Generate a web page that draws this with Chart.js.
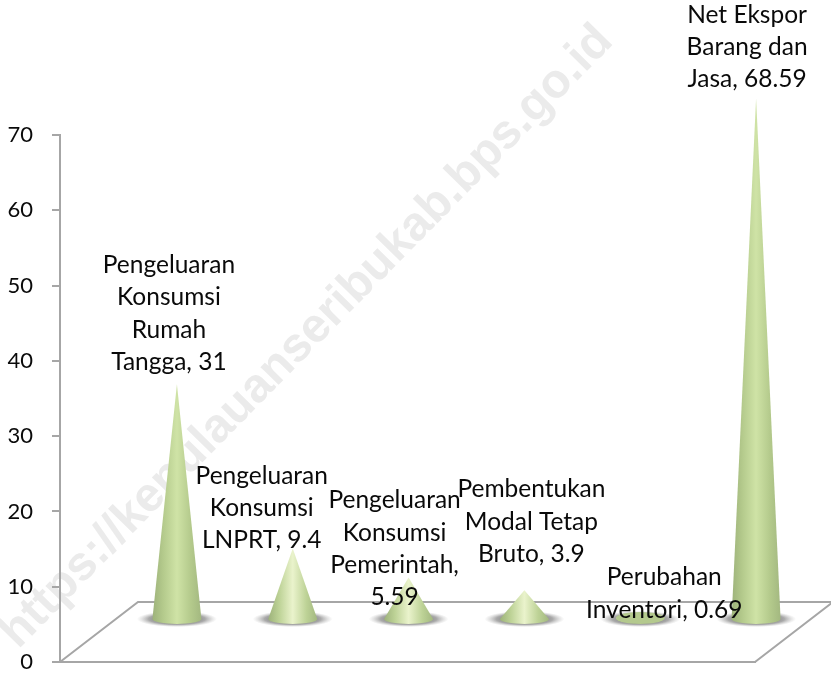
<!DOCTYPE html>
<html>
<head>
<meta charset="utf-8">
<style>
  html, body { margin: 0; padding: 0; background: #fff; }
  canvas { display: block; }
</style>
<script src="https://cdn.jsdelivr.net/npm/chart.js@4"></script>
</head>
<body>
<canvas id="kerucut" width="831" height="673"></canvas>
<script>
const categories = [
  "Pengeluaran Konsumsi Rumah Tangga",
  "Pengeluaran Konsumsi LNPRT",
  "Pengeluaran Konsumsi Pemerintah",
  "Pembentukan Modal Tetap Bruto",
  "Perubahan Inventori",
  "Net Ekspor Barang dan Jasa"
];
const values = [31, 9.4, 5.59, 3.9, 0.69, 68.59];
const tickValues = [0, 10, 20, 30, 40, 50, 60, 70];
const labelLines = [
  ["Pengeluaran", "Konsumsi", "Rumah", "Tangga, 31"],
  ["Pengeluaran", "Konsumsi", "LNPRT, 9.4"],
  ["Pengeluaran", "Konsumsi", "Pemerintah,", "5.59"],
  ["Pembentukan", "Modal Tetap", "Bruto, 3.9"],
  ["Perubahan", "Inventori, 0.69"],
  ["Net Ekspor", "Barang dan", "Jasa, 68.59"]
];
// label position relative to the cone: dx of centre, dy of last line from tip
const labelOffsets = [[-8, -22], [-31, -8], [-14, 20], [7, -36], [24, -5], [-9, -19]];

const FONT = "Lato, Carlito, sans-serif";
const AXIS = "#a6a6a6";
const DEPTH_X = 78, DEPTH_Y = 60;   // floor parallelogram
const SHIFT_X = 59, SHIFT_Y = 42;   // cones stand in the middle of the floor
const CONE_R = 24.5, CONE_RY = 5;

const watermark = {
  id: "watermark",
  beforeDraw(chart) {
    const c = chart.ctx;
    c.save();
    c.translate(307, 337);
    c.rotate(-45.5 * Math.PI / 180);
    c.font = "bold 48px 'Liberation Sans', sans-serif";
    c.fillStyle = "#ebebeb";
    c.textAlign = "center";
    c.textBaseline = "middle";
    c.fillText("https://kepulauanseribukab.bps.go.id", 0, 0);
    c.restore();
  }
};

const floor = {
  id: "floor",
  beforeDatasetsDraw(chart) {
    const c = chart.ctx, a = chart.chartArea;
    c.save();
    c.strokeStyle = AXIS;
    c.lineWidth = 2;
    c.beginPath();
    c.moveTo(a.left, a.bottom);
    c.lineTo(a.left + DEPTH_X, a.bottom - DEPTH_Y);
    c.lineTo(chart.width, a.bottom - DEPTH_Y);
    c.moveTo(a.right, a.bottom);
    c.lineTo(a.right + DEPTH_X, a.bottom - DEPTH_Y);
    c.stroke();
    c.restore();
  }
};

function drawShadow(c, x, y) {
  c.save();
  c.translate(x, y);
  c.scale(1, 0.2);
  const g = c.createRadialGradient(0, 0, 14, 0, 0, 40);
  g.addColorStop(0, "rgba(80,80,80,0.8)");
  g.addColorStop(0.55, "rgba(100,100,100,0.55)");
  g.addColorStop(1, "rgba(160,160,160,0)");
  c.fillStyle = g;
  c.beginPath();
  c.arc(0, 0, 40, 0, Math.PI * 2);
  c.fill();
  c.restore();
}

function coneFill(c, x, h) {
  const g = c.createLinearGradient(x - CONE_R, 0, x + CONE_R, 0);
  const mid = h < 100 ? "#eaf3cc" : "#cfe3a6";
  const side = h < 100 ? "#bdd296" : "#b4ca8c";
  g.addColorStop(0, "#9db27a");
  g.addColorStop(0.22, side);
  g.addColorStop(0.5, mid);
  g.addColorStop(0.78, side);
  g.addColorStop(1, "#a3b880");
  return g;
}

// each bar element gives x, y and base from the scales, the cone is drawn on them
const cones = {
  id: "cones",
  afterDatasetsDraw(chart) {
    const c = chart.ctx;
    const bars = chart.getDatasetMeta(0).data;
    bars.forEach((bar, i) => {
      const x = bar.x + SHIFT_X;
      const base = bar.base - SHIFT_Y;
      const h = (bar.base - bar.y) * 1.01;
      drawShadow(c, x, base);
      c.fillStyle = coneFill(c, x, h);
      c.beginPath();
      if (h < CONE_RY * 2) {
        c.ellipse(x, base - 1, CONE_R, CONE_RY + 1, 0, 0, Math.PI * 2);
        c.fillStyle = "#b4c98e";
      } else {
        c.moveTo(x, base - h);
        c.lineTo(x + CONE_R, base);
        c.ellipse(x, base, CONE_R, CONE_RY, 0, 0, Math.PI);
        c.closePath();
      }
      c.fill();
    });
    c.save();
    c.font = "24.5px " + FONT;
    c.fillStyle = "#0a0a0a";
    c.textAlign = "center";
    c.textBaseline = "middle";
    bars.forEach((bar, i) => {
      const h = (bar.base - bar.y) * 1.01;
      const tip = bar.base - SHIFT_Y - h;
      const lines = labelLines[i];
      lines.forEach((line, k) => {
        const ly = tip + labelOffsets[i][1] - (lines.length - 1 - k) * 32.4;
        c.fillText(line, bar.x + SHIFT_X + labelOffsets[i][0], ly);
      });
    });
    c.restore();
  }
};

new Chart(document.getElementById("kerucut"), {
  type: "bar",
  data: {
    labels: categories,
    datasets: [{ data: values, backgroundColor: "transparent", borderWidth: 0 }]
  },
  options: {
    responsive: false,
    maintainAspectRatio: false,
    animation: false,
    layout: { autoPadding: false, padding: { left: 0, top: 135, right: 76, bottom: 11 } },
    plugins: { legend: { display: false }, tooltip: { enabled: false } },
    scales: {
      x: {
        afterFit(axis) {
          axis.height = 0;
          axis.paddingTop = axis.paddingBottom = axis.paddingLeft = axis.paddingRight = 0;
        },
        grid: { display: false },
        ticks: { display: false },
        border: { color: AXIS, width: 2 }
      },
      y: {
        min: 0,
        max: 70,
        afterBuildTicks(axis) { axis.ticks = tickValues.map((v) => ({ value: v })); },
        afterFit(axis) {
          axis.width = 60;
          axis.paddingTop = axis.paddingBottom = 0;
        },
        grid: { drawOnChartArea: false, color: AXIS, lineWidth: 2, tickLength: 8 },
        border: { color: AXIS, width: 2 },
        ticks: { color: "#0a0a0a", padding: 19, font: { family: FONT, size: 22 } }
      }
    }
  },
  plugins: [watermark, floor, cones]
});
</script>
</body>
</html>
